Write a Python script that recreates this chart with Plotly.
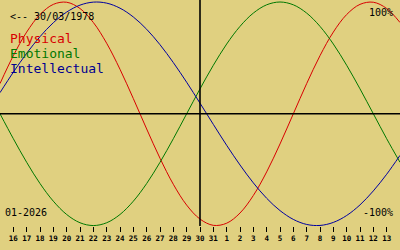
import plotly.graph_objects as go

# Days shown (15 Jan 2026 .. 14 Feb 2026); edge days have no tick
days = ["15", "16", "17", "18", "19", "20", "21", "22", "23", "24", "25", "26", "27", "28", "29", "30", "31",
        "1", "2", "3", "4", "5", "6", "7", "8", "9", "10", "11", "12", "13", "14"]

physical = [0.270, 0.520, 0.731, 0.888, 0.979, 0.998, 0.942, 0.817, 0.631, 0.398, 0.136,
            -0.136, -0.398, -0.631, -0.817, -0.942, -0.998, -0.979, -0.888, -0.731, -0.520, -0.270,
            0.0, 0.270, 0.520, 0.731, 0.888, 0.979, 0.998, 0.942, 0.817]

emotional = [0.0, -0.223, -0.434, -0.624, -0.782, -0.901, -0.975, -1.0, -0.975, -0.901, -0.782,
             -0.624, -0.434, -0.223, 0.0, 0.223, 0.434, 0.624, 0.782, 0.901, 0.975, 1.0,
             0.975, 0.901, 0.782, 0.624, 0.434, 0.223, 0.0, -0.223, -0.434]

intellectual = [0.189, 0.372, 0.541, 0.690, 0.815, 0.910, 0.972, 0.999, 0.990, 0.945, 0.866,
                0.756, 0.618, 0.458, 0.282, 0.095, -0.095, -0.282, -0.458, -0.618, -0.756, -0.866,
                -0.945, -0.990, -0.999, -0.972, -0.910, -0.815, -0.690, -0.541, -0.372]

series_names = ["Physical", "Emotional", "Intellectual"]
series_colors = ["#D80000", "#007800", "#0000A0"]
text_colors = ["#D80000", "#007800", "#000090"]
birth_label = "<-- 30/03/1978"
month_label = "01-2026"
today_label = "30"

BG = "#E0D080"
MONO = "DejaVu Sans Mono"

x = list(range(len(days)))
today_x = days.index(today_label)
tick_x = x[1:-1]
tick_text = days[1:-1]

fig = go.Figure()
for name, vals, col in zip(series_names, [physical, emotional, intellectual], series_colors):
    fig.add_trace(go.Scatter(x=x, y=vals, mode="lines", name=name,
                             line=dict(color=col, width=1, shape="spline", smoothing=1.0),
                             hoverinfo="skip"))

fig.add_shape(type="line", xref="paper", yref="y", x0=0, x1=1, y0=0, y1=0,
              line=dict(color="black", width=1.6))
fig.add_shape(type="line", xref="x", yref="paper", x0=today_x, x1=today_x, y0=0, y1=1,
              line=dict(color="black", width=1.6))

H = 226.0
def py(pix):
    return 1 - pix / H

anns = [
    dict(text=birth_label, x=8 / 400, y=py(16.5), xanchor="left", font=dict(size=10, color="black")),
    dict(text="100%", x=395 / 400, y=py(12.5), xanchor="right", font=dict(size=10, color="black")),
    dict(text="-100%", x=395 / 400, y=py(212), xanchor="right", font=dict(size=10, color="black")),
    dict(text=month_label, x=3 / 400, y=py(212), xanchor="left", font=dict(size=10, color="black")),
]
for i, (name, col) in enumerate(zip(series_names, text_colors)):
    anns.append(dict(text=name, x=8 / 400, y=py(38.5 + 15 * i), xanchor="left",
                     font=dict(size=13, color=col)))
for a in anns:
    a.update(xref="paper", yref="paper", yanchor="middle", showarrow=False)
    a["font"]["family"] = MONO
fig.update_layout(annotations=anns)

fig.update_layout(
    width=400, height=250,
    margin=dict(l=0, r=0, t=0, b=24, pad=0),
    paper_bgcolor=BG, plot_bgcolor=BG,
    showlegend=False,
    xaxis=dict(range=[0, len(days) - 1], tickmode="array", tickvals=tick_x, ticktext=tick_text,
               ticks="outside", ticklen=5, tickwidth=1, tickcolor="black",
               showgrid=False, zeroline=False, showline=False,
               tickfont=dict(family=MONO, size=7.5, color="black", weight="bold")),
    yaxis=dict(range=[-1.004, 1.018], showgrid=False, zeroline=False, showline=False,
               showticklabels=False, ticks=""),
)

fig.write_html("out.html")
